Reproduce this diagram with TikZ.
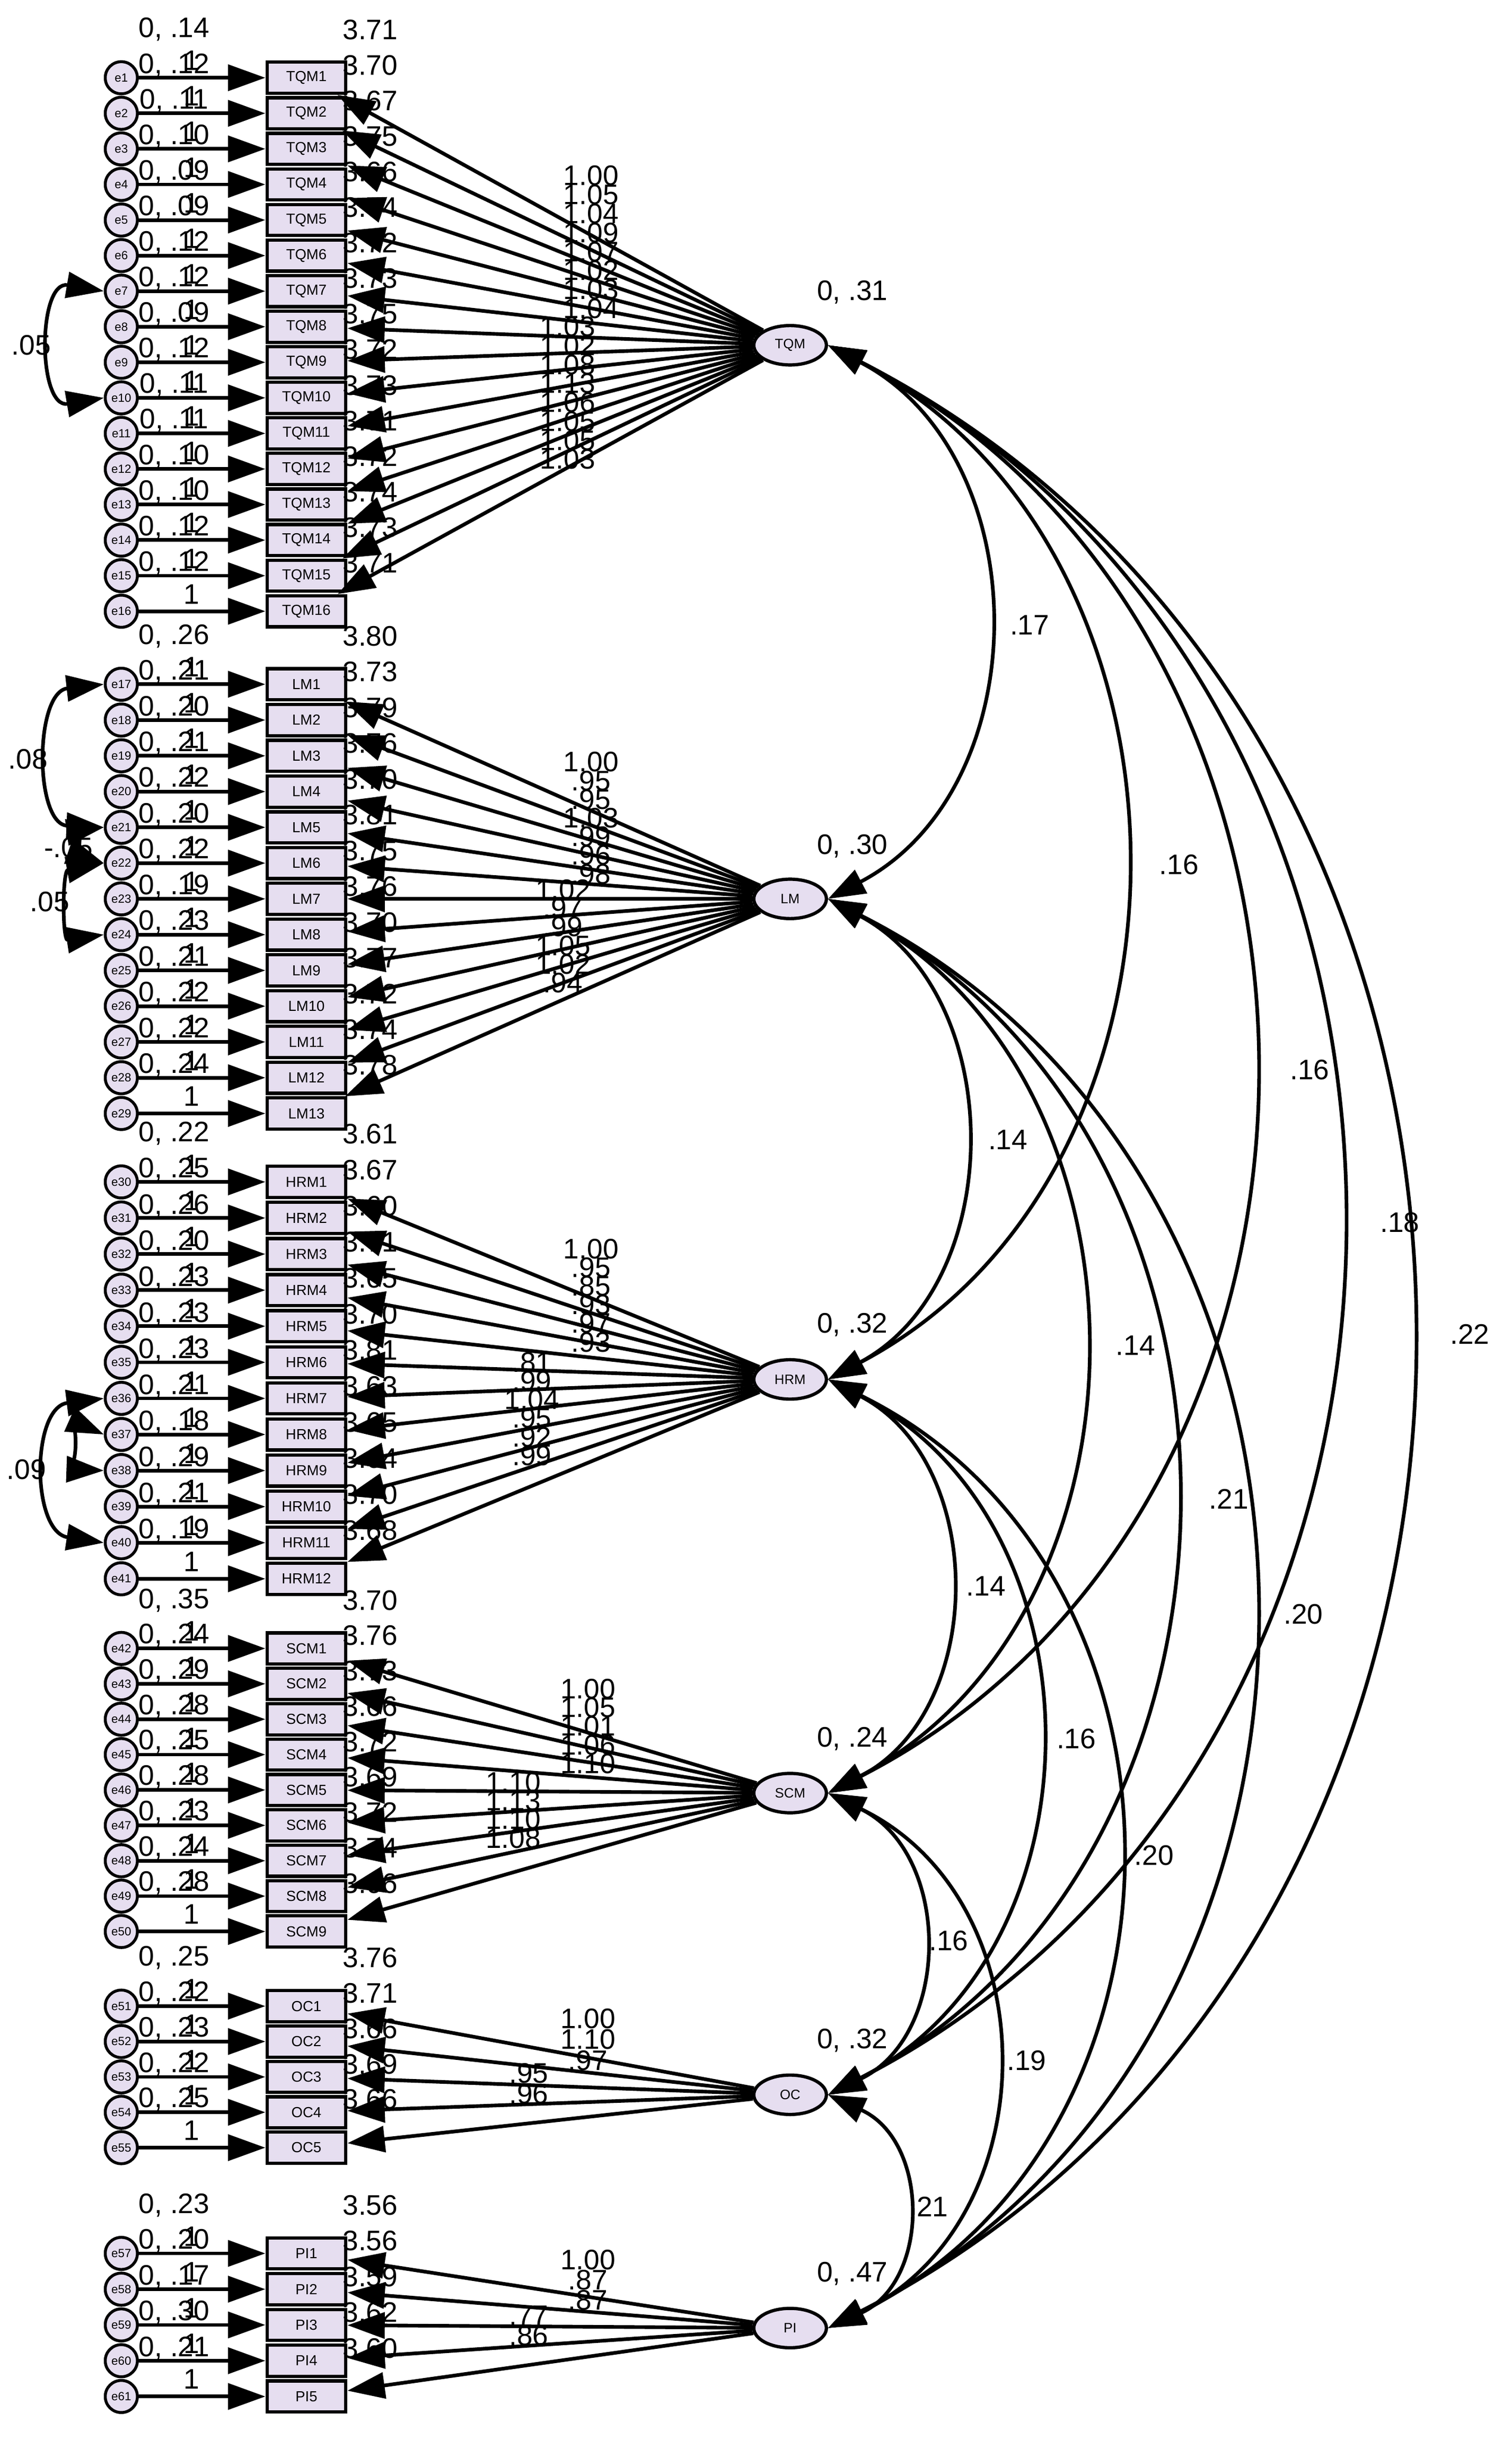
\documentclass[tikz,border=0pt]{standalone}
\usepackage{fontspec}
\setmainfont{Liberation Sans}
\usetikzlibrary{shapes.geometric,arrows.meta}
\definecolor{lav}{HTML}{E6DEF0}
\tikzset{
 box/.style={draw,line width=1.8pt,fill=lav,minimum width=1.52cm,minimum height=0.6cm,inner sep=0pt,font=\fontsize{8}{8}\selectfont},
 err/.style={circle,draw,line width=1.6pt,fill=lav,minimum size=0.62cm,inner sep=0pt,font=\fontsize{6.5}{6.5}\selectfont},
 lat/.style={ellipse,draw,line width=1.8pt,fill=lav,minimum width=1.4cm,minimum height=0.76cm,inner sep=0pt,font=\fontsize{7.5}{7.5}\selectfont},
 lab/.style={inner sep=0pt,font=\fontsize{15.5}{15.5}\selectfont},
 arr/.style={line width=2pt,-{Triangle[length=0.72cm,width=0.5cm]}},
 cov/.style={line width=2pt,{Triangle[length=0.72cm,width=0.5cm]}-{Triangle[length=0.72cm,width=0.5cm]}},
}
\newcommand\mkblock[4]{%
 \foreach \i/\en/\ev/\ic in {#4}{
   \pgfmathsetmacro\yy{#2+(\i-1)*#3}
   \node[box] (#1\i) at (197,\yy) {#1\i};
   \node[err] (e\en) at (78,\yy) {e\en};
   \draw[arr] (e\en) -- (#1\i);
   \node[lab] at (112,\yy-31) {0,\ \ev};
   \node[lab] at (123,\yy-11) {1};
   \node[lab] at (238,\yy-31) {\ic};
 }}
\newcommand\mkloads[9]{% 1 latent, 2 n, 3 ntop, 4 xa,5 ya,6 xb,7 yb,8 dy, 9 list
 \foreach \k in {1,...,#2} \draw[arr] (#1) -- (#1\k);
 \foreach \t [count=\k] in {#9}{
   \pgfmathsetmacro\lx{\k<=#3 ? #4 : #6}
   \pgfmathsetmacro\ly{\k<=#3 ? #5+(\k-1)*#8 : #7+(\k-#3-1)*#8}
   \node[lab] at (\lx,\ly) {\t};
 }}
\begin{document}
\begin{tikzpicture}[x=0.03cm,y=-0.03cm]
\useasboundingbox (0,0) rectangle (972,1569);
\fill[white] (0,0) rectangle (972,1569);
% latents
\node[lat] (TQM) at (508,222) {TQM};
\node[lat] (LM) at (508,578) {LM};
\node[lat] (HRM) at (508,887) {HRM};
\node[lat] (SCM) at (508,1153) {SCM};
\node[lat] (OC) at (508,1347) {OC};
\node[lat] (PI) at (508,1497) {PI};
\node[lab] at (548,188) {0, .31};
\node[lab] at (548,544) {0, .30};
\node[lab] at (548,852) {0, .32};
\node[lab] at (548,1118) {0, .24};
\node[lab] at (548,1312) {0, .32};
\node[lab] at (548,1462) {0, .47};
% blocks
\mkblock{TQM}{50}{22.87}{1/1/.14/3.71,2/2/.12/3.70,3/3/.11/3.67,4/4/.10/3.75,5/5/.09/3.66,6/6/.09/3.74,7/7/.12/3.72,8/8/.12/3.73,9/9/.09/3.75,10/10/.12/3.72,11/11/.11/3.73,12/12/.11/3.71,13/13/.10/3.72,14/14/.10/3.74,15/15/.12/3.73,16/16/.12/3.71}
\mkblock{LM}{440}{23}{1/17/.26/3.80,2/18/.21/3.73,3/19/.20/3.79,4/20/.21/3.76,5/21/.22/3.70,6/22/.20/3.81,7/23/.22/3.75,8/24/.19/3.76,9/25/.23/3.70,10/26/.21/3.77,11/27/.22/3.72,12/28/.22/3.74,13/29/.24/3.78}
\mkblock{HRM}{760}{23.2}{1/30/.22/3.61,2/31/.25/3.67,3/32/.26/3.60,4/33/.20/3.71,5/34/.23/3.65,6/35/.23/3.70,7/36/.23/3.81,8/37/.21/3.63,9/38/.18/3.65,10/39/.29/3.64,11/40/.21/3.70,12/41/.19/3.68}
\mkblock{SCM}{1060}{22.75}{1/42/.35/3.70,2/43/.24/3.76,3/44/.29/3.73,4/45/.28/3.66,5/46/.25/3.72,6/47/.28/3.69,7/48/.23/3.72,8/49/.24/3.74,9/50/.28/3.66}
\mkblock{OC}{1290}{22.75}{1/51/.25/3.76,2/52/.22/3.71,3/53/.23/3.66,4/54/.22/3.69,5/55/.25/3.66}
\mkblock{PI}{1449}{23}{1/57/.23/3.56,2/58/.20/3.56,3/59/.17/3.59,4/60/.30/3.62,5/61/.21/3.60}
% loadings
\mkloads{TQM}{16}{8}{380}{113}{365}{210}{12.2}{1.00,1.05,1.04,1.09,1.07,1.02,1.03,1.04,1.03,1.02,1.08,1.13,1.06,1.05,1.05,1.03}
\mkloads{LM}{13}{7}{380}{490}{362}{572}{12}{1.00,.95,.95,1.03,.99,.96,.98,1.02,.97,.99,1.05,1.02,.94}
\mkloads{HRM}{12}{6}{380}{803}{342}{876}{12}{1.00,.95,.85,.93,.97,.93,.81,.99,1.04,.95,.92,.99}
\mkloads{SCM}{9}{5}{378}{1086}{330}{1146}{12}{1.00,1.05,1.01,1.06,1.10,1.10,1.13,1.10,1.08}
\mkloads{OC}{5}{3}{378}{1298}{340}{1333}{13.5}{1.00,1.10,.97,.95,.96}
\mkloads{PI}{5}{3}{378}{1453}{340}{1489}{13}{1.00,.87,.87,.77,.86}
% latent covariances: from/to/ya/yb/control x
\foreach \a/\b/\ya/\yb/\c in {
 TQM/LM/222/578/668, TQM/HRM/222/887/785, TQM/SCM/222/1153/895, TQM/OC/222/1347/970, TQM/PI/222/1497/1030,
 LM/HRM/578/887/648, LM/SCM/578/1153/750, LM/OC/578/1347/828, LM/PI/578/1497/895,
 HRM/SCM/887/1153/635, HRM/OC/887/1347/712, HRM/PI/887/1497/780,
 SCM/OC/1153/1347/612, SCM/PI/1153/1497/675,
 OC/PI/1347/1497/598}{
 \draw[cov] (\a.east) .. controls ({\c},{\ya+0.2*(\yb-\ya)}) and ({\c},{\yb-0.2*(\yb-\ya)}) .. (\b.east);
}
\foreach \lx/\ly/\t in {662/402/.17,758/556/.16,842/688/.16,900/786/.18,945/858/.22,648/733/.14,730/865/.14,790/964/.21,838/1038/.20,634/1020/.14,692/1118/.16,742/1193/.20,610/1248/.16,660/1325/.19,597/1419/.21}
 \node[lab] at (\lx,\ly) {\t};
% error covariances
\draw[cov] (e7.west) .. controls (24,180) and (24,263) .. (e10.west);
\node[lab] at (20,222) {.05};
\draw[cov] (e17.west) .. controls (22,445) and (22,530) .. (e21.west);
\node[lab] at (18,488) {.08};
\draw[cov] (e21.west) .. controls (52,534) and (52,550) .. (e22.west);
\node[lab] at (44,545) {-.05};
\draw[cov] (e22.west) .. controls (40,560) and (40,605) .. (e24.west);
\node[lab] at (32,580) {.05};
\draw[cov] (e36.west) .. controls (20,905) and (20,985) .. (e40.west);
\node[lab] at (17,945) {.09};
\draw[cov] (e37.west) .. controls (50,915) and (50,945) .. (e38.west);
\end{tikzpicture}
\end{document}
